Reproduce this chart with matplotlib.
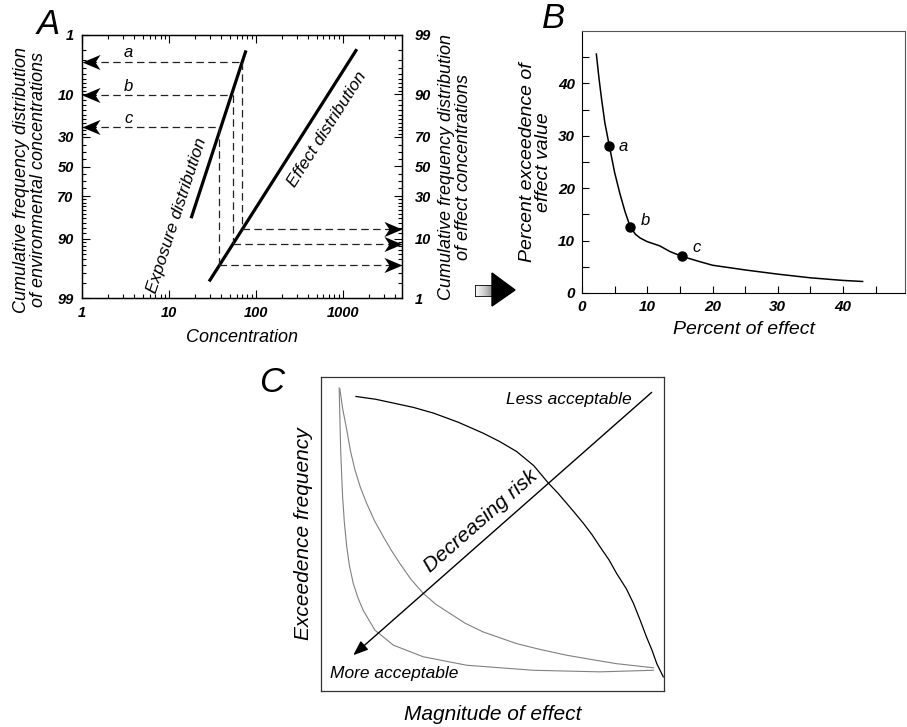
"""Three-panel risk figure: exposure/effect distributions, joint probability curve, risk curves"""
from math import erf, sqrt
import numpy as np
import matplotlib
matplotlib.use('Agg')
import matplotlib.pyplot as plt
from matplotlib.path import Path
from matplotlib.patches import Polygon

plt.rcParams['font.family'] = ['Liberation Sans', 'DejaVu Sans']
plt.rcParams['font.style'] = 'italic'

# ---- panel A: distributions on log-probability paper ----
exposure_conc = [18, 77]
exposure_pct = [82.0, 2.0]
effect_conc = [29, 1450]
effect_pct = [97.9, 1.9]
case_labels = ['a', 'b', 'c']
case_conc = [70, 54, 38]
case_exposure_pct = [3.2, 10.3, 24.5]
case_effect_pct = [86.5, 91.5, 95.9]
conc_ticks = [1, 10, 100, 1000]
prob_ticks = [1, 10, 30, 50, 70, 90, 99]
prob_minor = [2, 3, 4, 5, 6, 7, 8, 9, 12, 14, 16, 18, 20, 22, 24, 26, 28,
              35, 40, 45, 55, 60, 65, 72, 74, 76, 78, 80, 82, 84, 86, 88,
              91, 92, 93, 94, 95, 96, 97, 98]

# ---- panel B: exceedence vs effect ----
pct_effect = [2.2, 2.6, 3.0, 3.5, 4.2, 5.0, 5.8, 6.6, 7.4, 8.2, 8.9, 10.0,
              11.9, 13.5, 15.3, 18.0, 20.0, 25.0, 30.0, 35.0, 40.0, 43.0]
pct_exceed = [45.6, 41.0, 37.0, 32.5, 28.0, 23.0, 19.0, 15.5, 12.6, 11.2, 10.5, 9.8,
              9.0, 7.9, 7.0, 6.0, 5.3, 4.4, 3.6, 2.9, 2.4, 2.2]
point_effect = [4.2, 7.4, 15.3]
point_exceed = [28.0, 12.6, 7.0]

# ---- panel C: schematic risk curves (0-100 units) ----
outer_x = [10.2, 16.0, 21.1, 27.0, 32.8, 40.0, 47.3, 52.0, 57.0, 62.0, 66.3, 69.0, 71.6,
           74.0, 76.5, 79.0, 81.3, 84.0, 86.2, 89.0, 91.1, 93.0, 94.9, 96.5, 97.9, 99.8]
outer_y = [93.8, 92.9, 91.7, 90.3, 88.5, 85.6, 82.1, 79.5, 76.3, 71.8, 66.2, 63.1, 59.8,
           56.7, 53.4, 49.8, 46.0, 41.7, 37.4, 32.6, 27.9, 22.7, 17.2, 13.0, 8.7, 4.5]
middle_x = [5.5, 6.3, 7.5, 8.6, 9.9, 11.5, 13.3, 15.6, 18.2, 20.5, 23.0, 26.2, 29.8,
            33.5, 37.6, 42.0, 47.3, 57.0, 64.0, 71.6, 79.0, 86.2, 96.9]
middle_y = [96.2, 90.0, 83.2, 76.4, 70.4, 64.8, 59.8, 54.2, 49.1, 44.8, 40.6, 35.6, 31.1,
            27.6, 24.7, 21.6, 18.8, 15.1, 13.2, 11.4, 10.0, 8.7, 7.4]
inner_x = [5.3, 5.5, 5.7, 6.0, 6.3, 6.8, 7.5, 8.3, 9.4, 10.8, 12.3, 15.7, 21.1, 29.8,
           42.5, 61.9, 81.3, 96.9]
inner_y = [96.5, 87.0, 77.9, 69.5, 61.9, 53.8, 46.0, 39.8, 34.3, 29.6, 25.7, 19.4, 14.6,
           10.9, 8.2, 6.6, 6.1, 6.6]
risk_arrow_start = (96.4, 95.1)
risk_arrow_end = (9.4, 11.4)

# normal probability scale (percent) without scipy
_z = np.linspace(-5, 5, 2001)
_p = np.array([50.0 * (1.0 + erf(z / sqrt(2.0))) for z in _z])


def prob_forward(p):
    return np.interp(p, _p, _z)


def prob_inverse(z):
    return np.interp(z, _z, _p)


W, H = 907, 727
fig = plt.figure(figsize=(W / 100, H / 100), dpi=100)


def frac(x0, y0, x1, y1):
    """pixel box (top-left origin) -> figure fraction rect"""
    return [x0 / W, 1 - y1 / H, (x1 - x0) / W, (y1 - y0) / H]


# arrowhead marker shapes, tip at the origin
left_head = Path([(0, 0), (1, 0.42), (0.72, 0), (1, -0.42), (0, 0)],
                 [Path.MOVETO, Path.LINETO, Path.LINETO, Path.LINETO, Path.CLOSEPOLY])
right_head = Path([(0, 0), (-1, 0.42), (-0.72, 0), (-1, -0.42), (0, 0)],
                  [Path.MOVETO, Path.LINETO, Path.LINETO, Path.LINETO, Path.CLOSEPOLY])

tick_font = dict(fontsize=10.5, fontweight='bold', fontstyle='italic')
dash = dict(color='#222222', lw=0.9, dashes=(6, 3.5))

# ================= panel A =================
axA = fig.add_axes(frac(82, 35, 402, 298))
axA.set_xscale('log')
axA.set_yscale('function', functions=(prob_forward, prob_inverse))
x_max = 4800
axA.set_xlim(1, x_max)
axA.set_ylim(99, 1)

axA.plot(exposure_conc, exposure_pct, color='k', lw=2.3, solid_capstyle='butt')
axA.plot(effect_conc, effect_pct, color='k', lw=2.3, solid_capstyle='butt')

for lab, c, pe, pf in zip(case_labels, case_conc, case_exposure_pct, case_effect_pct):
    axA.plot([1.2, c], [pe, pe], **dash)
    axA.plot([c, c], [pe, pf], **dash)
    axA.plot([c, x_max * 0.85], [pf, pf], **dash)
    axA.annotate(lab, (3.4, pe), xytext=(0, 1), textcoords='offset points',
                 ha='center', va='bottom', fontsize=12)

axA.plot([1] * 3, case_exposure_pct, ls='none', marker=left_head, ms=26,
         color='k', mew=0, clip_on=False, zorder=5)
axA.plot([x_max] * 3, case_effect_pct, ls='none', marker=right_head, ms=26,
         color='k', mew=0, clip_on=False, zorder=5)

axA.text(12.4, 80.5, 'Exposure distribution', rotation=72, fontsize=12.5,
         ha='center', va='center', rotation_mode='anchor')
axA.text(655, 25.4, 'Effect distribution', rotation=57.5, fontsize=12.5,
         ha='center', va='center', rotation_mode='anchor')

axA.set_xticks(conc_ticks, [str(t) for t in conc_ticks], **tick_font)
axA.set_yticks(prob_ticks, [str(t) for t in prob_ticks], **tick_font)
axA.set_yticks(prob_minor, minor=True)
axA.tick_params(axis='both', which='both', direction='in', top=True, width=0.8)
axA.tick_params(axis='both', which='major', length=6, pad=6)
axA.tick_params(axis='both', which='minor', length=3)
axA.tick_params(axis='y', right=False)
axA.set_xlabel('Concentration', fontsize=13, labelpad=6)
axA.set_ylabel('Cumulative frequency distribution\nof environmental concentrations',
               fontsize=13, linespacing=1.0)
axA.yaxis.set_label_coords(-0.109, 0.45)

axA2 = axA.twinx()
axA2.set_yscale('function', functions=(prob_forward, prob_inverse))
axA2.set_ylim(1, 99)
axA2.set_yticks(prob_ticks, [str(t) for t in prob_ticks], **tick_font)
axA2.set_yticks(prob_minor, minor=True)
axA2.tick_params(axis='y', which='both', direction='in', width=0.8)
axA2.tick_params(axis='y', which='major', length=6, pad=9)
axA2.tick_params(axis='y', which='minor', length=3)
axA2.set_ylabel('Cumulative frequency distribution\nof effect concentrations',
                fontsize=13, linespacing=1.0, labelpad=5)
for sp in list(axA.spines.values()) + list(axA2.spines.values()):
    sp.set_linewidth(0.9)

# ================= panel B =================
axB = fig.add_axes(frac(582, 31, 905, 293))
axB.plot(pct_effect, pct_exceed, color='k', lw=1.1)
axB.plot(point_effect, point_exceed, 'o', color='k', ms=6.5)
for lab, dx, dy in zip(case_labels, [1.4, 1.6, 1.6], [0.0, 1.2, 1.6]):
    i = case_labels.index(lab)
    axB.text(point_effect[i] + dx, point_exceed[i] + dy, lab, fontsize=12,
             ha='left', va='center')
axB.set_xlim(0, 49.5)
axB.set_ylim(0, 50)
axB.set_xticks([0, 10, 20, 30, 40], ['0', '10', '20', '30', '40'], fontsize=11,
               fontweight='bold', fontstyle='italic')
axB.set_yticks([0, 10, 20, 30, 40], ['0', '10', '20', '30', '40'], fontsize=11,
               fontweight='bold', fontstyle='italic')
axB.set_xticks(np.arange(5, 50, 10), minor=True)
axB.set_yticks(np.arange(5, 50, 10), minor=True)
axB.tick_params(axis='both', which='both', direction='in', width=0.8)
axB.tick_params(axis='both', which='major', length=5, pad=5)
axB.tick_params(axis='both', which='minor', length=5)
axB.set_xlabel('Percent of effect', fontsize=14, labelpad=5)
axB.set_ylabel('Percent exceedence of\neffect value', fontsize=14,
               linespacing=1.0, labelpad=4)
for sp in axB.spines.values():
    sp.set_linewidth(0.8)
axB.spines['top'].set_color('#555555')
axB.spines['right'].set_color('#555555')

# ================= panel C =================
axC = fig.add_axes(frac(321, 377, 664, 691))
axC.set_xlim(0, 100)
axC.set_ylim(0, 100)
axC.plot(outer_x, outer_y, color='k', lw=0.9)
axC.plot(middle_x, middle_y, color='#808080', lw=0.8)
axC.plot(inner_x, inner_y, color='#808080', lw=0.8)
axC.annotate('', xy=risk_arrow_end, xytext=risk_arrow_start,
             arrowprops=dict(arrowstyle='-|>,head_length=0.9,head_width=0.35',
                             color='k', lw=1.0, shrinkA=0, shrinkB=0))
axC.text(46.5, 54.0, 'Decreasing risk', rotation=41.4, fontsize=15,
         ha='center', va='center', rotation_mode='anchor')
axC.text(90.6, 92.8, 'Less acceptable', fontsize=12.5, ha='right', va='center')
axC.text(2.6, 5.5, 'More acceptable', fontsize=12.5, ha='left', va='center')
axC.set_xticks([])
axC.set_yticks([])
for sp in axC.spines.values():
    sp.set_linewidth(0.9)
    sp.set_color('#333333')
axC.set_xlabel('Magnitude of effect', fontsize=15, labelpad=10)
axC.set_ylabel('Exceedence frequency', fontsize=15, labelpad=6)

# panel letters
fig.text(37 / W, 1 - 34 / H, 'A', fontsize=25, ha='left', va='baseline')
fig.text(542 / W, 1 - 28 / H, 'B', fontsize=25, ha='left', va='baseline')
fig.text(259 / W, 1 - 392 / H, 'C', fontsize=25, ha='left', va='baseline')

# block arrow between A and B: shaded tail + black head
tail = fig.add_axes(frac(475, 285, 493, 296))
tail.imshow(np.linspace(0.05, 0.55, 32).reshape(1, -1), cmap='Greys', vmin=0, vmax=1,
            aspect='auto')
tail.set_xticks([])
tail.set_yticks([])
for sp in tail.spines.values():
    sp.set_linewidth(0.6)
head = [(492, 273), (515, 290), (492, 306)]
fig.add_artist(Polygon([(x / W, 1 - y / H) for x, y in head], closed=True,
                       transform=fig.transFigure, color='k'))

fig.savefig('out.png', dpi=100)
